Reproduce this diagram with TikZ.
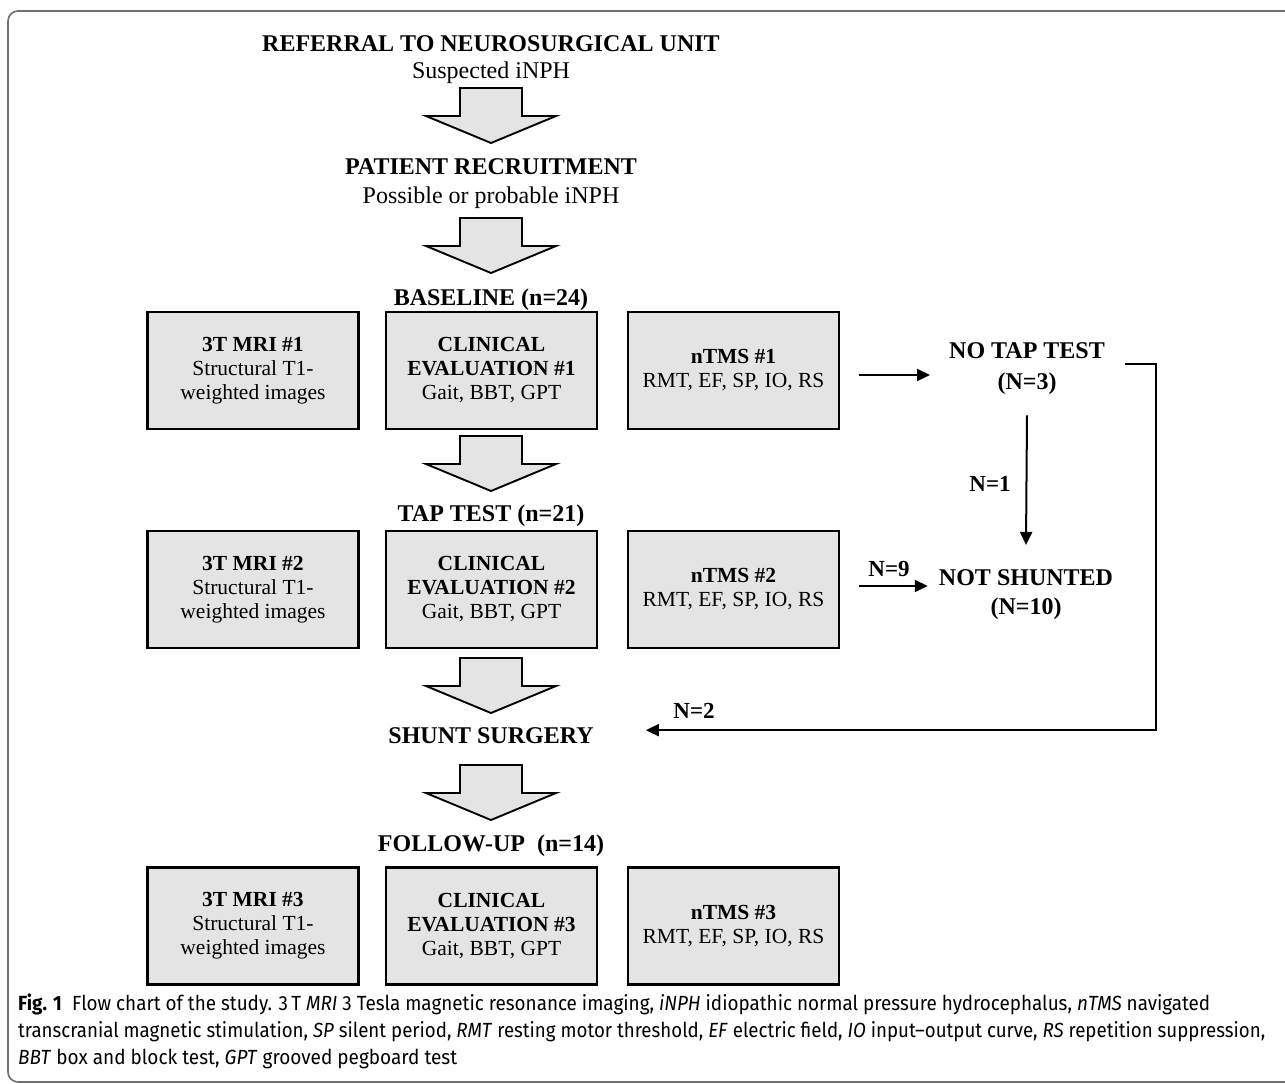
\documentclass[tikz,border=0pt]{standalone}
\usepackage{fontspec}
\setmainfont{Liberation Serif}
\newfontfamily\capfont{Fira Sans}
\usepackage{graphicx}
\usetikzlibrary{arrows.meta}
\definecolor{boxgray}{HTML}{E4E4E4}
\definecolor{framegray}{HTML}{707070}
\tikzset{
  stagebox/.style={draw=black, line width=2.4pt, fill=boxgray, minimum width=211pt, minimum height=117pt, inner sep=0pt, align=center, font=\fontsize{21.5}{24}\selectfont},
  headb/.style={anchor=base, inner sep=0pt, font=\bfseries\fontsize{24}{27}\selectfont},
  headr/.style={anchor=base, inner sep=0pt, font=\fontsize{24}{27}\selectfont},
  nlabel/.style={anchor=base, inner sep=0pt, font=\bfseries\fontsize{23}{23}\selectfont},
  conn/.style={line width=2pt, -{Triangle[length=13pt,width=12pt]}},
  bigarrow/.pic={\draw[fill=boxgray, line width=1.9pt, line join=miter] (-31,0) -- (31,0) -- (31,28) -- (65,28) -- (0,55) -- (-65,28) -- (-31,28) -- cycle;},
  capline/.style={anchor=base west, inner sep=0pt, font=\capfont\fontsize{20.5}{27}\selectfont}
}
\begin{document}
\begin{tikzpicture}[x=1pt,y=-1pt]
\useasboundingbox (0,0) rectangle (1285,1084);
% frame
\draw[framegray, line width=1.6pt, rounded corners=10pt] (1300,11) -- (8,11) -- (8,1082) -- (1300,1082);

% top headings
\node[headb] (ref) at (491,51) {REFERRAL TO NEUROSURGICAL UNIT};
\node[headr] (refs) at (491,78) {Suspected iNPH};
\pic at (491,88) {bigarrow};
\node[headb] (pat) at (491,174) {PATIENT RECRUITMENT};
\node[headr] (pats) at (491,203) {Possible or probable iNPH};
\pic at (491,218) {bigarrow};
\node[headb] (base) at (491,305) {BASELINE (n=24)};

% row 1
\node[stagebox] (mri1) at (253,370.5) {\textbf{3T MRI \#1}\\Structural T1-\\weighted images};
\node[stagebox] (clin1) at (491.5,370.5) {\textbf{CLINICAL}\\\textbf{EVALUATION \#1}\\Gait, BBT, GPT};
\node[stagebox] (tms1) at (733.5,370.5) {\textbf{nTMS \#1}\\RMT, EF, SP, IO, RS};

\pic at (491,436) {bigarrow};
\node[headb] (tap) at (491,521) {TAP TEST (n=21)};

% row 2
\node[stagebox] (mri2) at (253,589.5) {\textbf{3T MRI \#2}\\Structural T1-\\weighted images};
\node[stagebox] (clin2) at (491.5,589.5) {\textbf{CLINICAL}\\\textbf{EVALUATION \#2}\\Gait, BBT, GPT};
\node[stagebox] (tms2) at (733.5,589.5) {\textbf{nTMS \#2}\\RMT, EF, SP, IO, RS};

\pic at (491,658) {bigarrow};
\node[headb] (shunt) at (491,743) {SHUNT SURGERY};
\pic at (491,765) {bigarrow};
\node[headb] (fu) at (491,851) {FOLLOW-UP\ \ (n=14)};

% row 3
\node[stagebox] (mri3) at (253,926) {\textbf{3T MRI \#3}\\Structural T1-\\weighted images};
\node[stagebox] (clin3) at (491.5,926) {\textbf{CLINICAL}\\\textbf{EVALUATION \#3}\\Gait, BBT, GPT};
\node[stagebox] (tms3) at (733.5,926) {\textbf{nTMS \#3}\\RMT, EF, SP, IO, RS};

% right side
\node[headb] (notap) at (1027,358) {NO TAP TEST};
\node[headb] (notapn) at (1027,389) {(N=3)};
\node[headb] (notsh) at (1026,585) {NOT SHUNTED};
\node[headb] (notshn) at (1026,614) {(N=10)};

\draw[conn] ([xshift=19pt,yshift=-4.5pt]tms1.east) -- ([xshift=-19pt,yshift=-4.5pt]tms1.east -| notap.west);
\draw[conn] ([xshift=19pt,yshift=3.5pt]tms2.east) -- ([xshift=-11pt,yshift=3.5pt]tms2.east -| notsh.west);
\draw[conn] (notapn.south) ++(0,21) -- ([yshift=24pt]notsh.north);
\draw[conn] ([xshift=20pt,yshift=-14pt]notap.east) -- ++(31,0) |- ([xshift=52pt,yshift=5pt]shunt.east);

\node[nlabel] (n1) at (990,491) {N=1};
\node[nlabel] (n9) at (889,576) {N=9};
\node[nlabel] (n2) at (694,718) {N=2};

% caption
\node[capline] (cap1) at (18,1010) {\resizebox{1192pt}{\height}{\textbf{Fig. 1}\hspace{0.55em}Flow chart of the study. 3\,T \textit{MRI} 3 Tesla magnetic resonance imaging, \textit{iNPH} idiopathic normal pressure hydrocephalus, \textit{nTMS} navigated}};
\node[capline] (cap2) at (18,1037) {\resizebox{1247pt}{\height}{transcranial magnetic stimulation, \textit{SP} silent period, \textit{RMT} resting motor threshold, \textit{EF} electric field, \textit{IO} input–output curve, \textit{RS} repetition suppression,}};
\node[capline] (cap3) at (18,1064) {\resizebox{439pt}{\height}{\textit{BBT} box and block test, \textit{GPT} grooved pegboard test}};
\end{tikzpicture}
\end{document}
